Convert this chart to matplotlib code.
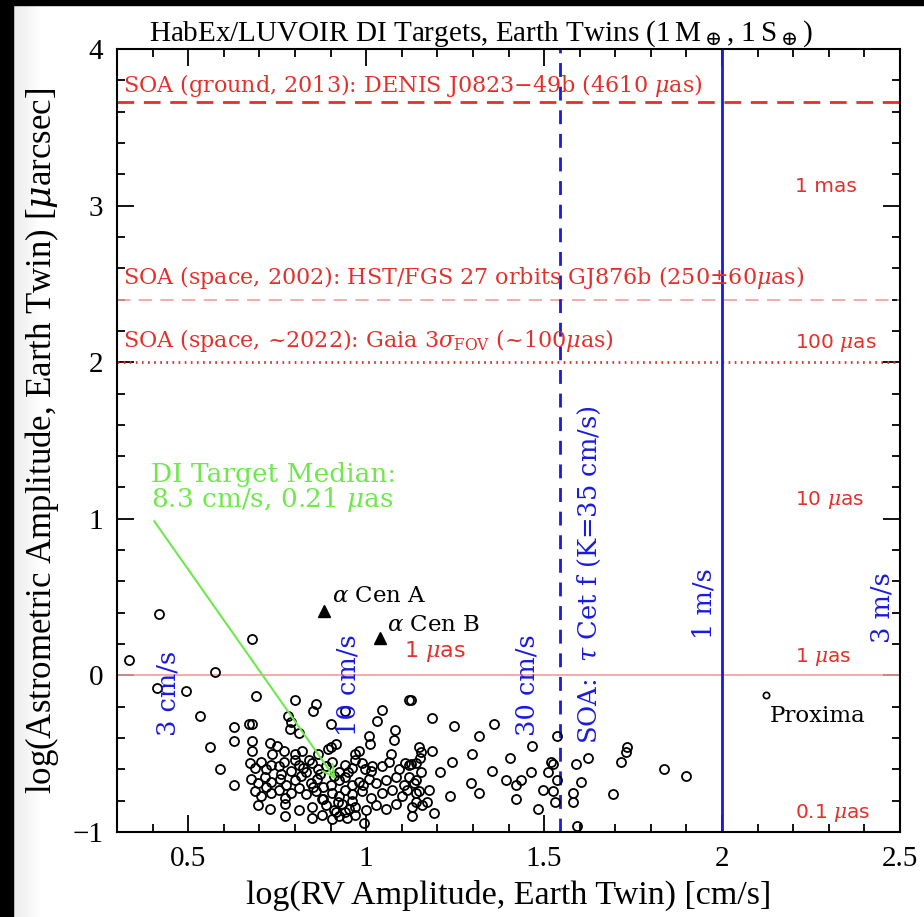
import numpy as np
import matplotlib
matplotlib.use("Agg")
import matplotlib.pyplot as plt
from matplotlib.patches import Rectangle
from matplotlib.ticker import MultipleLocator

plt.rcParams["mathtext.fontset"] = "dejavuserif"

# DI target stars: log RV amplitude [cm/s] and log astrometric amplitude [uas]
star_x = [0.334, 0.418, 0.413, 0.495, 0.576, 0.680, 0.534, 0.630, 0.630, 0.560,
          0.590, 0.630, 0.690, 0.672, 0.678, 0.680, 0.680, 0.800, 0.860, 0.850,
          0.780, 0.790, 0.785, 0.810, 0.900, 0.940, 1.045, 1.030, 1.120, 1.080,
          1.078, 1.007, 1.010, 1.070, 1.016, 0.914, 0.900, 0.894, 0.730, 0.750,
          0.735, 0.770, 0.800, 0.800, 0.820, 0.840, 0.866, 0.970, 0.970, 0.980,
          0.998,
          1.125, 1.185, 1.247, 1.317, 1.360, 1.148, 1.153, 1.150, 1.185, 1.240,
          1.297, 1.207, 1.108, 1.125, 1.140, 1.153, 1.120, 1.134, 1.114, 1.148,
          1.176, 1.170, 1.140, 1.156, 1.128, 1.190, 1.235, 1.294, 1.317, 1.353,
          1.393, 1.420, 1.435, 1.404, 1.420, 1.466, 1.463, 1.510, 1.497, 1.525,
          1.530, 1.483, 1.520, 1.525, 1.536, 1.536, 1.590, 1.624, 1.604, 1.580,
          1.580, 1.593, 1.717, 1.730, 1.734, 1.694, 1.838, 1.900,
          0.675, 0.689, 0.706, 0.720, 0.734, 0.754, 0.768, 0.790, 0.810, 0.824,
          0.847, 0.866, 0.886, 0.903, 0.923, 0.942, 0.959, 0.987, 1.015, 1.044,
          1.063, 1.092, 1.120,
          0.677, 0.697, 0.717, 0.734, 0.759, 0.776, 0.801, 0.818, 0.844, 0.861,
          0.880, 0.923, 0.942, 0.959, 0.979, 1.007, 1.027, 1.055, 1.083, 1.106,
          1.139,
          0.689, 0.706, 0.734, 0.754, 0.773, 0.790, 0.810, 0.832, 0.858, 0.875,
          0.903, 0.923, 0.942, 0.959, 0.987, 1.015, 1.044, 1.072, 1.100, 1.139,
          0.697, 0.731, 0.773, 0.810, 0.847, 0.886, 0.914, 0.931, 0.951, 0.970,
          0.999, 1.027, 1.055, 1.083, 1.128,
          0.773, 0.847, 0.875, 0.903, 0.923, 0.945, 0.970, 0.995,
          0.830, 0.870, 0.910, 0.950, 0.880, 0.920, 0.960, 0.990, 0.760, 0.720,
          0.850, 0.900, 0.940, 0.910]
star_y = [0.10, 0.39, -0.08, -0.10, 0.02, 0.23, -0.26, -0.33, -0.42, -0.46,
          -0.60, -0.70, -0.13, -0.31, -0.31, -0.42, -0.48, -0.16, -0.18, -0.23,
          -0.26, -0.30, -0.34, -0.37, -0.31, -0.23, -0.22, -0.29, -0.16, -0.35,
          -0.41, -0.39, -0.44, -0.50, -0.58, -0.44, -0.46, -0.47, -0.43, -0.45,
          -0.50, -0.48, -0.50, -0.54, -0.48, -0.54, -0.50, -0.50, -0.54, -0.48,
          -0.60,
          -0.16, -0.27, -0.32, -0.39, -0.31, -0.46, -0.49, -0.53, -0.48, -0.55,
          -0.50, -0.62, -0.56, -0.565, -0.56, -0.62, -0.65, -0.69, -0.73, -0.74,
          -0.73, -0.81, -0.81, -0.83, -0.90, -0.88, -0.77, -0.69, -0.75, -0.61,
          -0.67, -0.70, -0.67, -0.53, -0.79, -0.45, -0.62, -0.62, -0.73, -0.74,
          -0.81, -0.85, -0.55, -0.565, -0.385, -0.67, -0.565, -0.525, -0.68, -0.75,
          -0.81, -0.96, -0.55, -0.49, -0.46, -0.755, -0.60, -0.64,
          -0.56, -0.59, -0.55, -0.60, -0.57, -0.58, -0.55, -0.61, -0.57, -0.59,
          -0.56, -0.60, -0.58, -0.55, -0.62, -0.57, -0.59, -0.56, -0.61, -0.58,
          -0.55, -0.60, -0.57,
          -0.66, -0.69, -0.65, -0.68, -0.66, -0.70, -0.67, -0.64, -0.69, -0.66,
          -0.71, -0.67, -0.65, -0.70, -0.68, -0.66, -0.69, -0.67, -0.65, -0.70,
          -0.67,
          -0.74, -0.77, -0.75, -0.73, -0.78, -0.75, -0.72, -0.76, -0.74, -0.79,
          -0.75, -0.77, -0.73, -0.76, -0.74, -0.78, -0.75, -0.73, -0.77, -0.75,
          -0.83, -0.85, -0.82, -0.86, -0.84, -0.83, -0.87, -0.82, -0.85, -0.84,
          -0.86, -0.83, -0.85, -0.82, -0.84,
          -0.90, -0.91, -0.89, -0.92, -0.90, -0.91, -0.89, -0.94,
          -0.62, -0.63, -0.64, -0.62, -0.79, -0.81, -0.80, -0.70, -0.63, -0.71,
          -0.71, -0.70, -0.87, -0.86]

# alpha Cen A/B and Proxima
acen_x = [0.883, 1.038]
acen_y = [0.41, 0.24]
acen_names = [r"$\alpha$ Cen A", r"$\alpha$ Cen B"]
prox_x, prox_y = 2.123, -0.125

# median of the DI sample: 8.3 cm/s, 0.21 uas
median_rv = 8.3
median_ast = 0.21

# state-of-the-art astrometry [uas] and RV reference levels [cm/s]
soa_ground = 4610
soa_hst = 250
soa_gaia = 100
soa_taucet = 35
rv_levels = [3, 10, 30, 100, 300]
rv_labels = ["3 cm/s", "10 cm/s", "30 cm/s", "1 m/s", "3 m/s"]
ast_levels = [3, 2, 1, 0, -1]
ast_labels = ["1 mas", r"100 $\mu$as", r"10 $\mu$as", r"1 $\mu$as", r"0.1 $\mu$as"]

red = "#e3302b"
pink = "#eda0a0"
blue = "#1a1ae0"
green = "#6fe84c"
serif = "DejaVu Serif"
tfont = "Liberation Serif"

fig = plt.figure(figsize=(9.24, 9.17), dpi=100)

# window frame around the plot
fig.patches.append(Rectangle((0, 1 - 5 / 917), 1, 5 / 917, transform=fig.transFigure,
                             color="black", zorder=-5))
fig.patches.append(Rectangle((0, 0), 13 / 924, 1, transform=fig.transFigure,
                             color="black", zorder=-5))
shade = fig.add_axes([13 / 924, 0, 30 / 924, 1 - 5 / 917], zorder=-10)
shade.imshow(np.linspace(0.92, 1.0, 30)[None, :], cmap="gray", vmin=0, vmax=1,
             aspect="auto")
shade.axis("off")

ax = fig.add_axes([117 / 924, 1 - 832 / 917, 783 / 924, 783 / 917])
ax.set_xlim(0.3, 2.5)
ax.set_ylim(-1, 4)

# horizontal astrometry limits
ax.axhline(np.log10(soa_ground), color=red, lw=2, ls=(0, (6, 3.5)))
ax.axhline(np.log10(soa_hst), color=pink, lw=1.2, ls=(0, (8, 5)))
ax.axhline(np.log10(soa_gaia), color=red, lw=2, ls=(0, (0.6, 1.6)))
ax.axhline(0, color=pink, lw=1.2)

# vertical RV limits
ax.axvline(np.log10(soa_taucet), color=blue, lw=2, ls=(0, (5, 3.5)))
ax.axvline(2, color=blue, lw=2)

ax.plot(star_x, star_y, "o", mfc="none", mec="black", ms=6.5, mew=1.3)
ax.plot(acen_x, acen_y, "^", color="black", ms=9)
ax.plot([prox_x], [prox_y], "o", mfc="none", mec="black", ms=4.5, mew=1.2)

for x, y, name, dy in zip(acen_x, acen_y, acen_names, [0.10, 0.08]):
    ax.text(x + 0.02, y + dy, name, fontsize=16.5, family=serif, va="center")
ax.text(prox_x + 0.011, prox_y - 0.135, "Proxima", fontsize=16.5, family=serif,
        va="center")

# SOA annotations
ax.text(0.317, 3.77, r"SOA (ground, 2013): DENIS J0823$-$49b (4610 $\mu$as)",
        color=red, fontsize=16, family=serif, va="center")
ax.text(0.317, 2.54, r"SOA (space, 2002): HST/FGS 27 orbits GJ876b (250$\pm$60$\mu$as)",
        color=red, fontsize=16, family=serif, va="center")
ax.text(0.317, 2.14, r"SOA (space, ~2022): Gaia 3$\sigma_{\rm FOV}$ (~100$\mu$as)",
        color=red, fontsize=16, family=serif, va="center")

for lv, lab in zip(ast_levels, ast_labels):
    ax.text(2.205, lv + 0.12, lab, color=red, fontsize=14.5, va="center")
ax.text(1.106, 0.15, r"1 $\mu$as", color=red, fontsize=16, va="center")

# RV level labels, drawn just left of each level
rv_x = [0.444, 0.948, 1.452, 1.948, 2.449]
rv_bottom = [-0.39, -0.39, -0.39, 0.23, 0.21]
for x, yb, lab in zip(rv_x, rv_bottom, rv_labels):
    ax.text(x, yb, lab, color=blue, fontsize=18.5, family=serif, rotation=90,
            ha="center", va="bottom")
ax.text(1.627, -0.44, r"SOA:  $\tau$ Cet f (K=35 cm/s)", color=blue, fontsize=18.5,
        family=serif, rotation=90, ha="center", va="bottom")

# DI median arrow
ax.annotate("", xy=(np.log10(median_rv), np.log10(median_ast)), xytext=(0.4, 1.0),
            arrowprops=dict(arrowstyle="->", color=green, lw=1.5, mutation_scale=22))
ax.text(0.396, 1.03, "DI Target Median:\n" + r"8.3 cm/s, 0.21 $\mu$as", color=green,
        fontsize=19, family=serif, va="bottom", linespacing=0.9)

ax.xaxis.set_major_locator(MultipleLocator(0.5))
ax.xaxis.set_minor_locator(MultipleLocator(0.1))
ax.yaxis.set_major_locator(MultipleLocator(1))
ax.yaxis.set_minor_locator(MultipleLocator(0.2))
ax.tick_params(which="both", direction="in", top=True, right=True, width=1.3)
ax.tick_params(which="major", length=12, labelsize=21, pad=10)
ax.tick_params(which="minor", length=6)
for lab in ax.get_xticklabels() + ax.get_yticklabels():
    lab.set_family(tfont)
ax.xaxis.set_major_formatter(plt.FuncFormatter(lambda v, p: f"{v:g}"))
ax.yaxis.set_major_formatter(plt.FuncFormatter(lambda v, p: f"{v:g}".replace("-", "\u2212")))
for sp in ax.spines.values():
    sp.set_linewidth(1.5)

ax.set_xlabel("log(RV Amplitude, Earth Twin) [cm/s]", fontsize=24.5, family=tfont,
              labelpad=6)
ax.set_ylabel(r"log(Astrometric Amplitude, Earth Twin) [$\mu$arcsec]", fontsize=25,
              family=tfont, labelpad=8)
ax.set_title(r"HabEx/LUVOIR DI Targets, Earth Twins (1$\,$M$_\oplus$, 1$\,$S$_\oplus$)",
             fontsize=21, family=tfont, pad=6, x=0.464)

fig.savefig("out.png", dpi=100)
